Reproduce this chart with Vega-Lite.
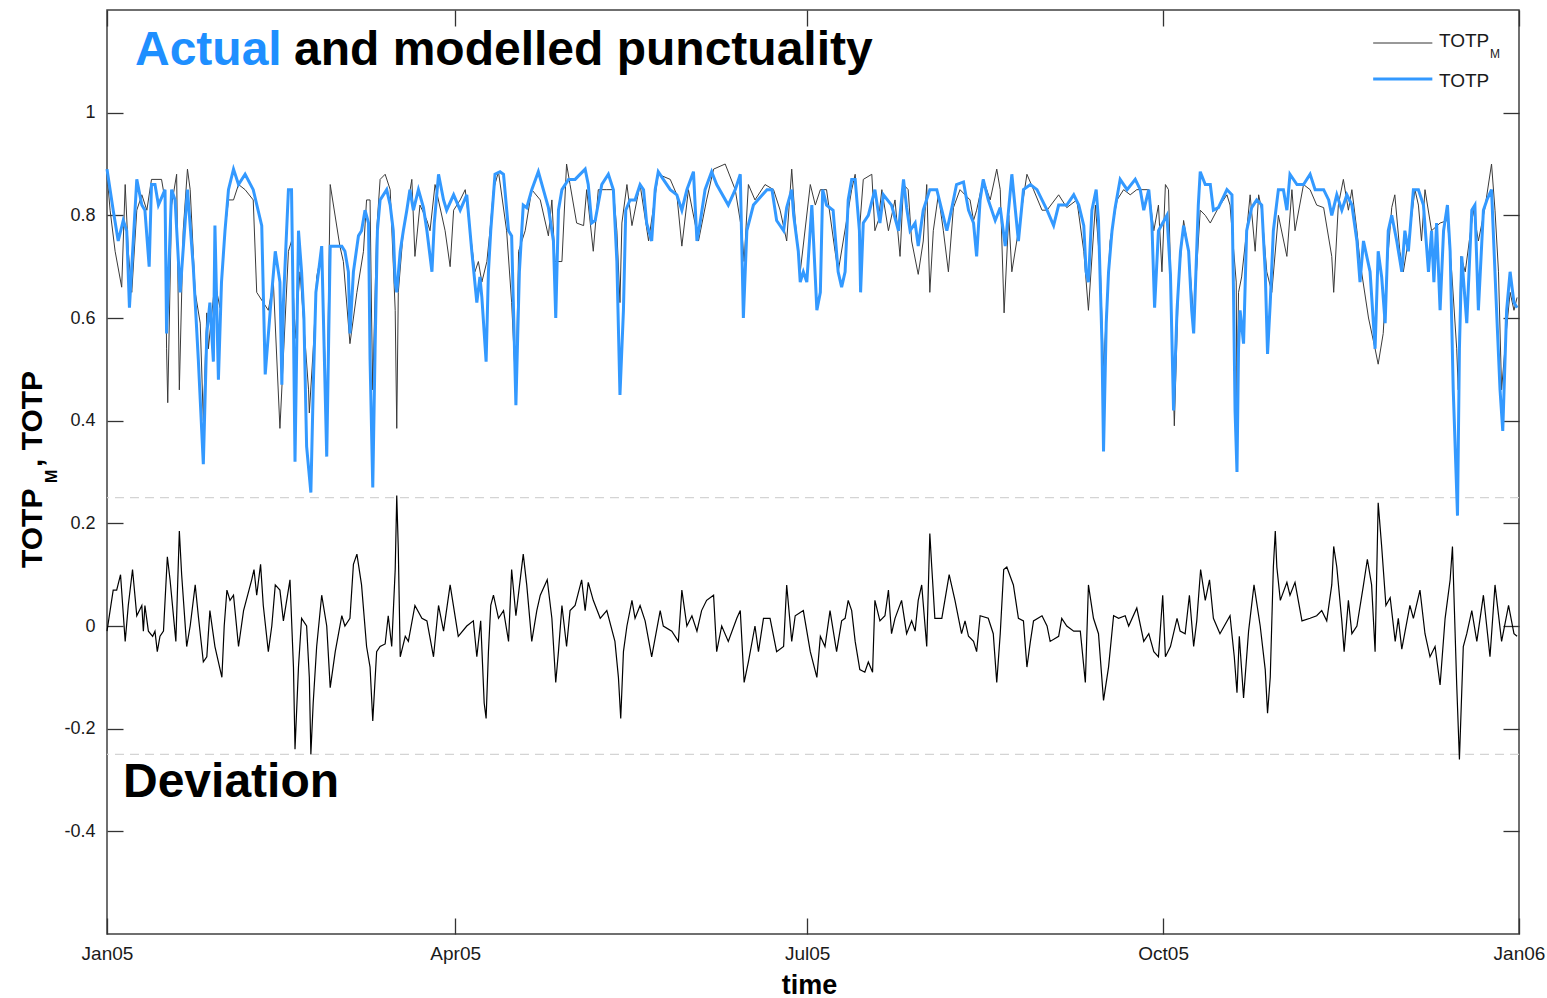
{
  "$schema": "https://vega.github.io/schema/vega-lite/v6.json",
  "width": 1412,
  "height": 924,
  "autosize": {"type": "none"},
  "padding": {"left": 107, "top": 10, "right": 28, "bottom": 64},
  "background": "white",
  "config": {"view": {"stroke": "#404040", "strokeWidth": 1.5}, "font": "Liberation Sans"},
  "data": {"values": [{}]},
  "datasets": {
    "actual": [{"d":0,"v":0.89},{"d":1.6,"v":0.81},{"d":2.9,"v":0.75},{"d":4.2,"v":0.79},{"d":5.1,"v":0.77},{"d":5.8,"v":0.62},{"d":7.7,"v":0.87},{"d":9,"v":0.82},{"d":9.8,"v":0.81},{"d":10.9,"v":0.7},{"d":11.5,"v":0.86},{"d":12.4,"v":0.86},{"d":13.3,"v":0.82},{"d":15,"v":0.85},{"d":15.4,"v":0.57},{"d":16.7,"v":0.85},{"d":17.6,"v":0.83},{"d":18.9,"v":0.65},{"d":20.8,"v":0.85},{"d":22.3,"v":0.7},{"d":23.6,"v":0.52},{"d":24.9,"v":0.315},{"d":25.8,"v":0.57},{"d":26.6,"v":0.63},{"d":27.5,"v":0.515},{"d":27.9,"v":0.78},{"d":28.8,"v":0.48},{"d":29.6,"v":0.67},{"d":30.5,"v":0.77},{"d":31.4,"v":0.85},{"d":32.7,"v":0.89},{"d":34,"v":0.86},{"d":35.7,"v":0.88},{"d":37.8,"v":0.85},{"d":40,"v":0.78},{"d":40.9,"v":0.49},{"d":42.2,"v":0.615},{"d":43.5,"v":0.73},{"d":44.7,"v":0.67},{"d":45.2,"v":0.47},{"d":45.6,"v":0.63},{"d":46.9,"v":0.85},{"d":47.7,"v":0.85},{"d":48.2,"v":0.585},{"d":48.6,"v":0.32},{"d":49.5,"v":0.77},{"d":50.3,"v":0.69},{"d":50.9,"v":0.6},{"d":51.6,"v":0.35},{"d":52.7,"v":0.26},{"d":53.3,"v":0.46},{"d":54,"v":0.65},{"d":54.6,"v":0.685},{"d":55.5,"v":0.74},{"d":56.8,"v":0.33},{"d":57.7,"v":0.74},{"d":59,"v":0.74},{"d":60.7,"v":0.74},{"d":61.5,"v":0.73},{"d":62.4,"v":0.69},{"d":62.8,"v":0.57},{"d":63.7,"v":0.69},{"d":65,"v":0.76},{"d":65.8,"v":0.77},{"d":66.7,"v":0.81},{"d":67.6,"v":0.785},{"d":68,"v":0.52},{"d":68.7,"v":0.27},{"d":69.3,"v":0.54},{"d":69.9,"v":0.77},{"d":70.6,"v":0.83},{"d":72.3,"v":0.85},{"d":73.2,"v":0.82},{"d":74,"v":0.77},{"d":74.5,"v":0.67},{"d":74.9,"v":0.65},{"d":75.8,"v":0.73},{"d":76.6,"v":0.77},{"d":77.5,"v":0.81},{"d":78.3,"v":0.85},{"d":79.2,"v":0.81},{"d":80.5,"v":0.85},{"d":81.8,"v":0.815},{"d":82.7,"v":0.77},{"d":84,"v":0.69},{"d":84.6,"v":0.785},{"d":85.7,"v":0.88},{"d":87,"v":0.83},{"d":87.8,"v":0.81},{"d":89.6,"v":0.84},{"d":91.3,"v":0.81},{"d":93,"v":0.84},{"d":94.3,"v":0.73},{"d":95.6,"v":0.63},{"d":96.4,"v":0.68},{"d":96.9,"v":0.64},{"d":98,"v":0.515},{"d":98.6,"v":0.69},{"d":99.2,"v":0.77},{"d":100.3,"v":0.88},{"d":101.6,"v":0.885},{"d":102.5,"v":0.88},{"d":103.8,"v":0.77},{"d":104.6,"v":0.76},{"d":105.7,"v":0.43},{"d":106.6,"v":0.69},{"d":107.6,"v":0.82},{"d":108.5,"v":0.815},{"d":109.8,"v":0.85},{"d":111.5,"v":0.885},{"d":112.8,"v":0.85},{"d":114.1,"v":0.815},{"d":115.4,"v":0.75},{"d":116,"v":0.6},{"d":116.7,"v":0.81},{"d":117.6,"v":0.85},{"d":119.3,"v":0.87},{"d":121,"v":0.87},{"d":123.6,"v":0.89},{"d":124.4,"v":0.86},{"d":125.3,"v":0.785},{"d":126.2,"v":0.79},{"d":127.9,"v":0.86},{"d":129.6,"v":0.88},{"d":130.9,"v":0.85},{"d":131.8,"v":0.71},{"d":132.6,"v":0.45},{"d":133.5,"v":0.615},{"d":134.1,"v":0.81},{"d":135.2,"v":0.83},{"d":136.5,"v":0.83},{"d":137.8,"v":0.86},{"d":138.7,"v":0.85},{"d":139.5,"v":0.785},{"d":140.8,"v":0.75},{"d":141.7,"v":0.85},{"d":142.5,"v":0.885},{"d":143.8,"v":0.87},{"d":145.6,"v":0.85},{"d":147.3,"v":0.84},{"d":148.6,"v":0.81},{"d":149.9,"v":0.85},{"d":151.6,"v":0.885},{"d":152.5,"v":0.75},{"d":153.3,"v":0.785},{"d":154.6,"v":0.85},{"d":156.3,"v":0.885},{"d":157.6,"v":0.86},{"d":160.6,"v":0.82},{"d":162.4,"v":0.85},{"d":163.7,"v":0.88},{"d":164.5,"v":0.6},{"d":165.4,"v":0.77},{"d":167.1,"v":0.82},{"d":170.6,"v":0.85},{"d":171.9,"v":0.85},{"d":173.1,"v":0.79},{"d":174.9,"v":0.77},{"d":175.7,"v":0.815},{"d":177,"v":0.85},{"d":177.5,"v":0.8},{"d":178.7,"v":0.73},{"d":179.2,"v":0.67},{"d":180,"v":0.69},{"d":180.9,"v":0.67},{"d":182.2,"v":0.82},{"d":183.5,"v":0.615},{"d":184.4,"v":0.65},{"d":185,"v":0.85},{"d":186,"v":0.82},{"d":187.7,"v":0.81},{"d":189,"v":0.69},{"d":189.9,"v":0.66},{"d":190.8,"v":0.69},{"d":191.6,"v":0.83},{"d":192.5,"v":0.87},{"d":193.4,"v":0.87},{"d":194.5,"v":0.77},{"d":194.8,"v":0.65},{"d":195.5,"v":0.785},{"d":196.8,"v":0.8},{"d":198.5,"v":0.85},{"d":199.8,"v":0.785},{"d":200.7,"v":0.84},{"d":202.8,"v":0.82},{"d":204.6,"v":0.77},{"d":205.9,"v":0.87},{"d":206.7,"v":0.815},{"d":207.6,"v":0.77},{"d":208.9,"v":0.785},{"d":209.7,"v":0.74},{"d":211,"v":0.81},{"d":212.7,"v":0.85},{"d":214.5,"v":0.85},{"d":215.8,"v":0.81},{"d":217.1,"v":0.77},{"d":218.4,"v":0.815},{"d":219.6,"v":0.86},{"d":221.4,"v":0.865},{"d":222.7,"v":0.81},{"d":224,"v":0.785},{"d":224.8,"v":0.72},{"d":225.7,"v":0.83},{"d":226.5,"v":0.87},{"d":227.8,"v":0.83},{"d":229.6,"v":0.79},{"d":230.9,"v":0.815},{"d":232.2,"v":0.74},{"d":233.9,"v":0.88},{"d":235.6,"v":0.75},{"d":236.9,"v":0.85},{"d":238.7,"v":0.86},{"d":240.4,"v":0.85},{"d":241.7,"v":0.83},{"d":243,"v":0.81},{"d":244.7,"v":0.78},{"d":246,"v":0.82},{"d":248.1,"v":0.82},{"d":249.9,"v":0.84},{"d":251.2,"v":0.82},{"d":252.5,"v":0.78},{"d":253.1,"v":0.69},{"d":253.7,"v":0.67},{"d":254.6,"v":0.81},{"d":255.7,"v":0.85},{"d":256.3,"v":0.79},{"d":257.2,"v":0.55},{"d":257.6,"v":0.34},{"d":258.3,"v":0.59},{"d":258.9,"v":0.69},{"d":259.8,"v":0.77},{"d":260.6,"v":0.815},{"d":261.9,"v":0.87},{"d":263.7,"v":0.85},{"d":265.8,"v":0.87},{"d":267.1,"v":0.85},{"d":268,"v":0.81},{"d":269.3,"v":0.85},{"d":270.1,"v":0.785},{"d":270.8,"v":0.62},{"d":271.8,"v":0.77},{"d":274,"v":0.8},{"d":274.9,"v":0.685},{"d":275.7,"v":0.42},{"d":276.6,"v":0.615},{"d":277.5,"v":0.73},{"d":278.3,"v":0.78},{"d":279.6,"v":0.73},{"d":280.4,"v":0.615},{"d":280.9,"v":0.57},{"d":281.3,"v":0.65},{"d":282.1,"v":0.82},{"d":282.6,"v":0.885},{"d":283.9,"v":0.86},{"d":285.2,"v":0.86},{"d":286,"v":0.81},{"d":287.3,"v":0.815},{"d":289.5,"v":0.85},{"d":290.8,"v":0.84},{"d":291.2,"v":0.65},{"d":291.6,"v":0.42},{"d":292.1,"v":0.3},{"d":292.5,"v":0.54},{"d":292.9,"v":0.615},{"d":293.8,"v":0.55},{"d":294.6,"v":0.77},{"d":295.9,"v":0.815},{"d":297.2,"v":0.83},{"d":298.5,"v":0.82},{"d":299.4,"v":0.69},{"d":300,"v":0.53},{"d":300.7,"v":0.63},{"d":301.5,"v":0.77},{"d":302.8,"v":0.85},{"d":304.1,"v":0.85},{"d":305,"v":0.81},{"d":305.8,"v":0.88},{"d":307.6,"v":0.86},{"d":309.3,"v":0.86},{"d":311,"v":0.88},{"d":312.3,"v":0.85},{"d":314.5,"v":0.85},{"d":315.8,"v":0.83},{"d":316.6,"v":0.8},{"d":317.9,"v":0.84},{"d":319.2,"v":0.81},{"d":320.5,"v":0.84},{"d":321.8,"v":0.82},{"d":323.1,"v":0.75},{"d":323.9,"v":0.67},{"d":324.8,"v":0.75},{"d":326.5,"v":0.69},{"d":327.8,"v":0.54},{"d":328.6,"v":0.73},{"d":329.5,"v":0.68},{"d":330.4,"v":0.59},{"d":331.2,"v":0.77},{"d":332.1,"v":0.8},{"d":333.4,"v":0.75},{"d":334.7,"v":0.69},{"d":335.5,"v":0.77},{"d":336.4,"v":0.73},{"d":337.7,"v":0.85},{"d":339,"v":0.85},{"d":340.3,"v":0.82},{"d":341.6,"v":0.69},{"d":342.4,"v":0.77},{"d":343,"v":0.67},{"d":343.7,"v":0.785},{"d":344.6,"v":0.615},{"d":345.5,"v":0.77},{"d":346.5,"v":0.82},{"d":347.2,"v":0.73},{"d":348,"v":0.46},{"d":349.1,"v":0.215},{"d":349.6,"v":0.54},{"d":350.2,"v":0.72},{"d":351.5,"v":0.59},{"d":352.8,"v":0.81},{"d":353.6,"v":0.82},{"d":354.5,"v":0.615},{"d":355.8,"v":0.81},{"d":356.7,"v":0.83},{"d":357.9,"v":0.85},{"d":359.2,"v":0.615},{"d":360.1,"v":0.46},{"d":360.8,"v":0.38},{"d":361.8,"v":0.615},{"d":362.7,"v":0.69},{"d":363.7,"v":0.63},{"d":364.5,"v":0.62}],
    "model": [{"d":0,"v":0.88},{"d":0.8,"v":0.81},{"d":2.1,"v":0.73},{"d":3.8,"v":0.66},{"d":4.7,"v":0.86},{"d":5.5,"v":0.73},{"d":6.4,"v":0.65},{"d":7.7,"v":0.81},{"d":9,"v":0.84},{"d":10.3,"v":0.81},{"d":11.5,"v":0.87},{"d":14.1,"v":0.87},{"d":15,"v":0.83},{"d":15.4,"v":0.54},{"d":15.7,"v":0.435},{"d":16.7,"v":0.82},{"d":18,"v":0.88},{"d":18.7,"v":0.46},{"d":19.7,"v":0.77},{"d":20.8,"v":0.89},{"d":21.5,"v":0.85},{"d":22.8,"v":0.65},{"d":24.1,"v":0.59},{"d":24.9,"v":0.4},{"d":25.8,"v":0.61},{"d":26.2,"v":0.54},{"d":27.9,"v":0.67},{"d":29.2,"v":0.62},{"d":30.5,"v":0.77},{"d":31.4,"v":0.83},{"d":32.7,"v":0.83},{"d":34,"v":0.86},{"d":35.7,"v":0.85},{"d":37.8,"v":0.83},{"d":38.7,"v":0.65},{"d":41.7,"v":0.615},{"d":43,"v":0.67},{"d":44.7,"v":0.385},{"d":46.9,"v":0.73},{"d":47.7,"v":0.75},{"d":48.6,"v":0.56},{"d":49.9,"v":0.69},{"d":52.1,"v":0.46},{"d":52.3,"v":0.415},{"d":53.4,"v":0.55},{"d":54.2,"v":0.68},{"d":55.5,"v":0.73},{"d":56.8,"v":0.4},{"d":57.7,"v":0.86},{"d":60.2,"v":0.74},{"d":61.1,"v":0.71},{"d":62.8,"v":0.55},{"d":64.6,"v":0.65},{"d":66.3,"v":0.73},{"d":67.1,"v":0.83},{"d":68,"v":0.83},{"d":68.4,"v":0.6},{"d":68.7,"v":0.46},{"d":69.7,"v":0.77},{"d":70.6,"v":0.87},{"d":71.9,"v":0.88},{"d":73.2,"v":0.85},{"d":74.5,"v":0.615},{"d":74.9,"v":0.385},{"d":75.3,"v":0.65},{"d":76.6,"v":0.77},{"d":77.5,"v":0.81},{"d":78.8,"v":0.87},{"d":79.6,"v":0.72},{"d":80.9,"v":0.82},{"d":82.7,"v":0.79},{"d":83.5,"v":0.77},{"d":84.8,"v":0.86},{"d":87.4,"v":0.77},{"d":88.7,"v":0.7},{"d":89.6,"v":0.81},{"d":91.3,"v":0.83},{"d":92.6,"v":0.85},{"d":95.1,"v":0.69},{"d":96,"v":0.71},{"d":96.9,"v":0.67},{"d":98.2,"v":0.71},{"d":99,"v":0.77},{"d":99.9,"v":0.85},{"d":101.2,"v":0.885},{"d":103.3,"v":0.77},{"d":104.6,"v":0.63},{"d":105.1,"v":0.55},{"d":105.7,"v":0.46},{"d":106.4,"v":0.73},{"d":108.1,"v":0.77},{"d":109.8,"v":0.85},{"d":112,"v":0.83},{"d":114.1,"v":0.76},{"d":115,"v":0.83},{"d":115.8,"v":0.71},{"d":117.6,"v":0.71},{"d":118.8,"v":0.9},{"d":119.7,"v":0.86},{"d":121.4,"v":0.785},{"d":123.2,"v":0.78},{"d":124,"v":0.85},{"d":125.7,"v":0.73},{"d":127,"v":0.85},{"d":129.2,"v":0.85},{"d":130.9,"v":0.85},{"d":131.8,"v":0.77},{"d":132.6,"v":0.63},{"d":133.1,"v":0.785},{"d":134.4,"v":0.86},{"d":135.7,"v":0.78},{"d":137,"v":0.83},{"d":137.8,"v":0.86},{"d":140,"v":0.75},{"d":142.5,"v":0.88},{"d":145.6,"v":0.87},{"d":147.3,"v":0.84},{"d":148.6,"v":0.74},{"d":150.3,"v":0.85},{"d":152.9,"v":0.75},{"d":155,"v":0.83},{"d":156.8,"v":0.89},{"d":159.8,"v":0.9},{"d":162.4,"v":0.85},{"d":164.1,"v":0.77},{"d":164.7,"v":0.71},{"d":165.8,"v":0.86},{"d":167.5,"v":0.83},{"d":170.1,"v":0.86},{"d":172.3,"v":0.85},{"d":174,"v":0.81},{"d":175.7,"v":0.75},{"d":177,"v":0.89},{"d":177.9,"v":0.79},{"d":179.2,"v":0.69},{"d":181.8,"v":0.86},{"d":183.1,"v":0.82},{"d":184.4,"v":0.85},{"d":186,"v":0.85},{"d":188.2,"v":0.73},{"d":189,"v":0.69},{"d":192.5,"v":0.85},{"d":193.4,"v":0.88},{"d":194.5,"v":0.77},{"d":195.5,"v":0.87},{"d":197.7,"v":0.88},{"d":198.5,"v":0.77},{"d":199.4,"v":0.79},{"d":200.3,"v":0.85},{"d":202,"v":0.77},{"d":203.7,"v":0.83},{"d":205,"v":0.72},{"d":205.9,"v":0.86},{"d":207.1,"v":0.85},{"d":208,"v":0.75},{"d":209.7,"v":0.685},{"d":211,"v":0.75},{"d":211.9,"v":0.86},{"d":212.7,"v":0.65},{"d":213.6,"v":0.77},{"d":214.9,"v":0.84},{"d":216.2,"v":0.77},{"d":217.5,"v":0.69},{"d":218.8,"v":0.815},{"d":220.5,"v":0.85},{"d":223.1,"v":0.83},{"d":224,"v":0.79},{"d":224.8,"v":0.81},{"d":226.5,"v":0.87},{"d":228.3,"v":0.83},{"d":230,"v":0.89},{"d":230.9,"v":0.85},{"d":231.9,"v":0.61},{"d":233.1,"v":0.8},{"d":233.9,"v":0.69},{"d":235.6,"v":0.77},{"d":237.8,"v":0.88},{"d":239.5,"v":0.85},{"d":241.7,"v":0.81},{"d":243,"v":0.81},{"d":246,"v":0.84},{"d":248.1,"v":0.815},{"d":250.7,"v":0.83},{"d":252.5,"v":0.73},{"d":253.7,"v":0.615},{"d":255.5,"v":0.82},{"d":256.8,"v":0.69},{"d":257.6,"v":0.5},{"d":259.3,"v":0.75},{"d":261.1,"v":0.83},{"d":262.8,"v":0.85},{"d":264.5,"v":0.84},{"d":266.2,"v":0.85},{"d":269.3,"v":0.85},{"d":270.6,"v":0.77},{"d":271.8,"v":0.82},{"d":272.7,"v":0.69},{"d":273.6,"v":0.86},{"d":274.4,"v":0.85},{"d":275.9,"v":0.39},{"d":277,"v":0.67},{"d":278.3,"v":0.79},{"d":279.6,"v":0.73},{"d":280.9,"v":0.6},{"d":282.6,"v":0.81},{"d":283.9,"v":0.8},{"d":285.2,"v":0.785},{"d":287.3,"v":0.815},{"d":289.5,"v":0.84},{"d":290.3,"v":0.82},{"d":291.9,"v":0.67},{"d":292.1,"v":0.44},{"d":292.5,"v":0.65},{"d":293.3,"v":0.68},{"d":294.6,"v":0.77},{"d":295.5,"v":0.84},{"d":296.8,"v":0.73},{"d":297.7,"v":0.84},{"d":298.5,"v":0.81},{"d":299.8,"v":0.69},{"d":301.1,"v":0.65},{"d":302.8,"v":0.8},{"d":305,"v":0.72},{"d":306.3,"v":0.85},{"d":307.1,"v":0.77},{"d":309.3,"v":0.86},{"d":311,"v":0.85},{"d":312.7,"v":0.82},{"d":314.5,"v":0.815},{"d":316.6,"v":0.72},{"d":317.1,"v":0.65},{"d":318.3,"v":0.82},{"d":319.6,"v":0.87},{"d":320.9,"v":0.81},{"d":321.8,"v":0.85},{"d":323.1,"v":0.77},{"d":323.9,"v":0.71},{"d":326.1,"v":0.6},{"d":327.8,"v":0.54},{"d":328.6,"v":0.51},{"d":329.9,"v":0.57},{"d":330.8,"v":0.69},{"d":332.1,"v":0.815},{"d":332.9,"v":0.84},{"d":334.2,"v":0.73},{"d":335.1,"v":0.69},{"d":336.8,"v":0.77},{"d":338.1,"v":0.85},{"d":339,"v":0.82},{"d":339.8,"v":0.75},{"d":340.7,"v":0.85},{"d":342.4,"v":0.77},{"d":344.6,"v":0.785},{"d":346.5,"v":0.79},{"d":347.6,"v":0.69},{"d":348.9,"v":0.54},{"d":349.3,"v":0.46},{"d":350,"v":0.72},{"d":351.1,"v":0.69},{"d":353.2,"v":0.81},{"d":354.5,"v":0.75},{"d":356.2,"v":0.815},{"d":357.9,"v":0.9},{"d":358.8,"v":0.81},{"d":359.7,"v":0.69},{"d":360.5,"v":0.46},{"d":361.8,"v":0.58},{"d":362.7,"v":0.65},{"d":363.7,"v":0.615},{"d":364.5,"v":0.64}],
    "dev": [{"d":0,"v":-0.01},{"d":1.6,"v":0.07},{"d":2.5,"v":0.07},{"d":3.5,"v":0.1},{"d":4.7,"v":-0.03},{"d":5.5,"v":0.04},{"d":6.6,"v":0.11},{"d":7.7,"v":0.02},{"d":9,"v":0.04},{"d":9.4,"v":-0.01},{"d":9.8,"v":0.04},{"d":10.7,"v":-0.01},{"d":11.8,"v":-0.02},{"d":12.4,"v":-0.01},{"d":13,"v":-0.05},{"d":13.7,"v":-0.02},{"d":14.6,"v":-0.01},{"d":15.6,"v":0.135},{"d":16.3,"v":0.09},{"d":17.8,"v":-0.03},{"d":18.7,"v":0.185},{"d":19.3,"v":0.1},{"d":20.6,"v":-0.04},{"d":21.5,"v":0},{"d":22.8,"v":0.08},{"d":23.6,"v":0.02},{"d":24.9,"v":-0.07},{"d":25.8,"v":-0.06},{"d":26.6,"v":0.03},{"d":27.9,"v":-0.04},{"d":29.7,"v":-0.1},{"d":30.3,"v":0},{"d":31,"v":0.07},{"d":31.8,"v":0.05},{"d":32.7,"v":0.06},{"d":34,"v":-0.04},{"d":35.3,"v":0.03},{"d":37.4,"v":0.09},{"d":38,"v":0.11},{"d":38.7,"v":0.06},{"d":39.7,"v":0.12},{"d":40.4,"v":0.04},{"d":41.7,"v":-0.05},{"d":42.6,"v":0},{"d":43.5,"v":0.08},{"d":44.7,"v":0.07},{"d":45.6,"v":0.01},{"d":47.3,"v":0.09},{"d":48.2,"v":-0.08},{"d":48.6,"v":-0.24},{"d":49.5,"v":-0.08},{"d":50.3,"v":0.015},{"d":51.6,"v":0},{"d":52.3,"v":-0.1},{"d":52.7,"v":-0.25},{"d":53.3,"v":-0.15},{"d":54.2,"v":-0.04},{"d":55.5,"v":0.06},{"d":56.8,"v":0},{"d":57.7,"v":-0.12},{"d":59,"v":-0.05},{"d":60.7,"v":0.02},{"d":61.5,"v":0},{"d":62.8,"v":0.015},{"d":63.7,"v":0.12},{"d":64.6,"v":0.14},{"d":65.8,"v":0.08},{"d":67.1,"v":-0.04},{"d":68,"v":-0.08},{"d":68.7,"v":-0.185},{"d":69.7,"v":-0.05},{"d":70.6,"v":-0.04},{"d":71.9,"v":-0.035},{"d":72.7,"v":0.02},{"d":73.6,"v":-0.04},{"d":74.5,"v":0.11},{"d":74.9,"v":0.254},{"d":75.3,"v":0.15},{"d":75.8,"v":-0.06},{"d":77.1,"v":-0.02},{"d":77.9,"v":-0.03},{"d":79.6,"v":0.04},{"d":81.4,"v":0.015},{"d":82.7,"v":0.01},{"d":84.4,"v":-0.06},{"d":85.7,"v":0.04},{"d":87,"v":-0.01},{"d":88.7,"v":0.08},{"d":90.8,"v":-0.02},{"d":93,"v":0},{"d":94.7,"v":0.01},{"d":95.6,"v":-0.06},{"d":96.6,"v":0.01},{"d":97.5,"v":-0.15},{"d":98,"v":-0.18},{"d":98.6,"v":-0.05},{"d":99.2,"v":0.04},{"d":99.9,"v":0.06},{"d":101.2,"v":0.015},{"d":102.5,"v":0.03},{"d":103.8,"v":-0.03},{"d":104.6,"v":0.11},{"d":105.7,"v":0.02},{"d":107.6,"v":0.14},{"d":108.5,"v":0.08},{"d":109.8,"v":-0.03},{"d":111.1,"v":0.03},{"d":112,"v":0.06},{"d":113.8,"v":0.09},{"d":115,"v":0.015},{"d":116,"v":-0.11},{"d":116.7,"v":-0.05},{"d":117.6,"v":0.04},{"d":118.8,"v":-0.04},{"d":119.7,"v":0.03},{"d":121,"v":0.04},{"d":122.7,"v":0.09},{"d":123.6,"v":0.03},{"d":124.4,"v":0.085},{"d":125.7,"v":0.05},{"d":127.5,"v":0.015},{"d":129.2,"v":0.03},{"d":131.3,"v":-0.03},{"d":132.2,"v":-0.1},{"d":132.8,"v":-0.18},{"d":133.5,"v":-0.05},{"d":134.4,"v":0},{"d":135.7,"v":0.05},{"d":136.5,"v":0.015},{"d":137.8,"v":0.04},{"d":139.1,"v":0.01},{"d":140.8,"v":-0.06},{"d":143,"v":0.03},{"d":143.8,"v":0},{"d":146,"v":-0.01},{"d":147.7,"v":-0.03},{"d":148.6,"v":0.07},{"d":149.9,"v":0},{"d":151.2,"v":0.02},{"d":152.5,"v":-0.01},{"d":153.7,"v":0.03},{"d":155,"v":0.05},{"d":156.8,"v":0.06},{"d":157.6,"v":-0.05},{"d":158.9,"v":0},{"d":160.6,"v":-0.03},{"d":162.8,"v":0.015},{"d":163.7,"v":0.03},{"d":164.7,"v":-0.11},{"d":165.8,"v":-0.07},{"d":167.5,"v":0},{"d":168.4,"v":-0.05},{"d":169.7,"v":0.015},{"d":171.4,"v":0.015},{"d":173.1,"v":-0.05},{"d":174.9,"v":-0.04},{"d":175.7,"v":0.08},{"d":177,"v":-0.03},{"d":177.9,"v":0.02},{"d":180,"v":0.03},{"d":181.8,"v":-0.05},{"d":183.5,"v":-0.1},{"d":184.4,"v":-0.02},{"d":185.6,"v":-0.04},{"d":186.9,"v":0.03},{"d":188.6,"v":-0.05},{"d":189.9,"v":0.01},{"d":190.8,"v":0.015},{"d":191.6,"v":0.05},{"d":192.5,"v":0.03},{"d":193.4,"v":-0.03},{"d":194.6,"v":-0.085},{"d":195.9,"v":-0.09},{"d":196.8,"v":-0.07},{"d":197.9,"v":-0.09},{"d":198.5,"v":0.05},{"d":199.8,"v":0.01},{"d":201.1,"v":0.02},{"d":202,"v":0.07},{"d":202.8,"v":-0.015},{"d":203.7,"v":0.015},{"d":205.4,"v":0.05},{"d":206.7,"v":-0.015},{"d":208,"v":0.01},{"d":208.9,"v":-0.01},{"d":209.7,"v":0.05},{"d":210.6,"v":0.08},{"d":211.9,"v":-0.04},{"d":212.7,"v":0.18},{"d":213.2,"v":0.115},{"d":214,"v":0.015},{"d":215.8,"v":0.015},{"d":217.7,"v":0.1},{"d":219.2,"v":0.05},{"d":220.9,"v":-0.015},{"d":221.8,"v":0.01},{"d":222.7,"v":-0.02},{"d":224,"v":-0.03},{"d":224.8,"v":-0.05},{"d":225.7,"v":0.02},{"d":227.8,"v":0.015},{"d":229.1,"v":-0.015},{"d":230,"v":-0.11},{"d":230.9,"v":-0.015},{"d":231.8,"v":0.11},{"d":232.6,"v":0.115},{"d":234.3,"v":0.08},{"d":235.6,"v":0.015},{"d":236.9,"v":0.01},{"d":237.8,"v":-0.08},{"d":238.7,"v":-0.03},{"d":239.5,"v":0.01},{"d":241.7,"v":0.02},{"d":243,"v":0},{"d":243.8,"v":-0.03},{"d":246,"v":-0.02},{"d":246.8,"v":0.015},{"d":248.1,"v":0},{"d":249.9,"v":-0.01},{"d":251.6,"v":-0.01},{"d":252.9,"v":-0.11},{"d":253.7,"v":0.08},{"d":255,"v":0.015},{"d":256.3,"v":-0.015},{"d":257.6,"v":-0.145},{"d":258.9,"v":-0.08},{"d":260.2,"v":0.02},{"d":261.5,"v":0.015},{"d":263.2,"v":0.02},{"d":264.1,"v":0},{"d":266.2,"v":0.035},{"d":268,"v":-0.03},{"d":269.3,"v":-0.015},{"d":270.6,"v":-0.05},{"d":271.8,"v":-0.06},{"d":272.9,"v":0.06},{"d":273.6,"v":-0.06},{"d":274.9,"v":-0.04},{"d":276.6,"v":0.015},{"d":277.4,"v":-0.01},{"d":278.7,"v":-0.015},{"d":279.8,"v":0.06},{"d":280.9,"v":-0.04},{"d":281.7,"v":0.01},{"d":282.7,"v":0.11},{"d":283.9,"v":0.05},{"d":285,"v":0.09},{"d":286,"v":0.015},{"d":287.7,"v":-0.015},{"d":290.3,"v":0.02},{"d":291.4,"v":-0.06},{"d":292.1,"v":-0.13},{"d":292.7,"v":-0.02},{"d":293.8,"v":-0.14},{"d":295.1,"v":-0.01},{"d":296.5,"v":0.08},{"d":298.1,"v":0},{"d":299.4,"v":-0.085},{"d":300,"v":-0.17},{"d":300.7,"v":-0.1},{"d":301.5,"v":0.115},{"d":302,"v":0.185},{"d":302.4,"v":0.115},{"d":303.3,"v":0.05},{"d":305,"v":0.085},{"d":305.8,"v":0.06},{"d":307.1,"v":0.085},{"d":308.9,"v":0.01},{"d":311,"v":0.015},{"d":312.7,"v":0.02},{"d":314,"v":0.03},{"d":315.3,"v":0.01},{"d":316.6,"v":0.08},{"d":317.1,"v":0.155},{"d":317.9,"v":0.115},{"d":319.2,"v":0.01},{"d":319.8,"v":-0.05},{"d":320.9,"v":0.05},{"d":321.8,"v":-0.015},{"d":323.1,"v":0},{"d":324.8,"v":0.08},{"d":325.8,"v":0.13},{"d":326.9,"v":0.08},{"d":327.8,"v":-0.05},{"d":328.6,"v":0.24},{"d":329.5,"v":0.155},{"d":330.6,"v":0.04},{"d":331.7,"v":0.055},{"d":333,"v":-0.03},{"d":333.8,"v":0.015},{"d":334.7,"v":-0.045},{"d":336.8,"v":0.04},{"d":337.7,"v":0.015},{"d":339.4,"v":0.07},{"d":340.7,"v":-0.015},{"d":342,"v":-0.06},{"d":343.3,"v":-0.04},{"d":344.6,"v":-0.115},{"d":345.9,"v":0.015},{"d":347.2,"v":0.09},{"d":347.8,"v":0.155},{"d":348.9,"v":-0.115},{"d":349.6,"v":-0.26},{"d":350.6,"v":-0.04},{"d":351.5,"v":-0.015},{"d":352.8,"v":0.03},{"d":354.1,"v":-0.03},{"d":355.8,"v":0.06},{"d":357.5,"v":-0.06},{"d":358.8,"v":0.08},{"d":360.5,"v":-0.03},{"d":362.3,"v":0.04},{"d":363.7,"v":-0.015},{"d":364.5,"v":-0.02}]
  },
  "resolve": {"axis": {"x": "independent", "y": "independent"}},
  "layer": [
    {
      "data": {"values": [{"y": 0.25}, {"y": -0.25}]},
      "mark": {"type": "rule", "stroke": "#d4d4d4", "strokeWidth": 1.3, "strokeDash": [9, 6]},
      "encoding": {"y": {"field": "y", "type": "quantitative", "scale": {"domain": [-0.6, 1.2], "nice": false, "zero": false}, "axis": null}}
    },
    {
      "data": {"name": "dev"},
      "mark": {"type": "line", "color": "#000000", "strokeWidth": 1.2},
      "encoding": {
        "x": {"field": "d", "type": "quantitative", "scale": {"domain": [0, 365], "nice": false, "zero": false},
          "axis": {"orient": "top", "values": [0, 90, 181, 273, 365], "labels": false, "domain": false, "grid": false, "ticks": true, "tickSize": -16, "tickColor": "#333333", "tickWidth": 1.3, "title": null}},
        "y": {"field": "v", "type": "quantitative", "scale": {"domain": [-0.6, 1.2], "nice": false, "zero": false},
          "axis": {"orient": "right", "values": [-0.4, -0.2, 0, 0.2, 0.4, 0.6, 0.8, 1], "labels": false, "domain": false, "grid": false, "ticks": true, "tickSize": -16, "tickColor": "#333333", "tickWidth": 1.3, "title": null}}
      }
    },
    {
      "data": {"name": "model"},
      "mark": {"type": "line", "color": "#3a3a3a", "strokeWidth": 1},
      "encoding": {
        "x": {"field": "d", "type": "quantitative", "scale": {"domain": [0, 365], "nice": false, "zero": false},
          "axis": {"orient": "bottom", "values": [0, 90, 181, 273, 365], "labelExpr": "datum.value == 0 ? 'Jan05' : datum.value == 90 ? 'Apr05' : datum.value == 181 ? 'Jul05' : datum.value == 273 ? 'Oct05' : 'Jan06'", "labelFont": "Liberation Sans", "labelFontSize": 19, "labelColor": "#1a1a1a", "labelPadding": 26, "labelFlush": false, "labelOverlap": false, "domain": false, "grid": false, "ticks": true, "tickSize": -16, "tickColor": "#333333", "tickWidth": 1.3, "title": "time", "titleFont": "Liberation Sans", "titleFontSize": 27, "titleFontWeight": "bold", "titleColor": "#000000", "titleBaseline": "alphabetic", "titleAlign": "center", "titleX": 702, "titleY": 59}},
        "y": {"field": "v", "type": "quantitative", "scale": {"domain": [-0.6, 1.2], "nice": false, "zero": false},
          "axis": {"orient": "left", "values": [-0.4, -0.2, 0, 0.2, 0.4, 0.6, 0.8, 1], "labelExpr": "'' + datum.value", "labelFont": "Liberation Sans", "labelFontSize": 18, "labelColor": "#1a1a1a", "labelPadding": 28, "labelOverlap": false, "labelFlush": false, "domain": false, "grid": false, "ticks": true, "tickSize": -16, "tickColor": "#333333", "tickWidth": 1.3, "title": null}}
      }
    },
    {
      "data": {"name": "actual"},
      "mark": {"type": "line", "color": "#3399ff", "strokeWidth": 3},
      "encoding": {
        "x": {"field": "d", "type": "quantitative", "scale": {"domain": [0, 365], "nice": false, "zero": false}, "axis": null},
        "y": {"field": "v", "type": "quantitative", "scale": {"domain": [-0.6, 1.2], "nice": false, "zero": false}, "axis": null}
      }
    },
    {
      "mark": {"type": "text", "text": "Actual", "align": "left", "baseline": "alphabetic", "font": "Liberation Sans", "fontSize": 48, "fontWeight": "bold", "color": "#1e8fff"},
      "encoding": {"x": {"datum": 7.24, "type": "quantitative", "axis": null}, "y": {"datum": 1.093, "type": "quantitative", "axis": null}}
    },
    {
      "mark": {"type": "text", "text": "and modelled punctuality", "align": "left", "baseline": "alphabetic", "font": "Liberation Sans", "fontSize": 48, "fontWeight": "bold", "color": "#000000"},
      "encoding": {"x": {"datum": 48.34, "type": "quantitative", "axis": null}, "y": {"datum": 1.093, "type": "quantitative", "axis": null}}
    },
    {
      "mark": {"type": "text", "text": "Deviation", "align": "left", "baseline": "alphabetic", "font": "Liberation Sans", "fontSize": 48, "fontWeight": "bold", "color": "#000000"},
      "encoding": {"x": {"datum": 4.14, "type": "quantitative", "axis": null}, "y": {"datum": -0.333, "type": "quantitative", "axis": null}}
    },
    {
      "mark": {"type": "text", "text": "TOTP", "angle": 270, "align": "left", "baseline": "alphabetic", "font": "Liberation Sans", "fontSize": 30, "fontWeight": "bold", "color": "#000000"},
      "encoding": {"x": {"datum": -16.8, "type": "quantitative", "axis": null}, "y": {"datum": 0.113, "type": "quantitative", "axis": null}}
    },
    {
      "mark": {"type": "text", "text": "M", "angle": 270, "align": "left", "baseline": "alphabetic", "font": "Liberation Sans", "fontSize": 16, "fontWeight": "bold", "color": "#000000"},
      "encoding": {"x": {"datum": -12.93, "type": "quantitative", "axis": null}, "y": {"datum": 0.2786, "type": "quantitative", "axis": null}}
    },
    {
      "mark": {"type": "text", "text": ", TOTP", "angle": 270, "align": "left", "baseline": "alphabetic", "font": "Liberation Sans", "fontSize": 30, "fontWeight": "bold", "color": "#000000"},
      "encoding": {"x": {"datum": -16.8, "type": "quantitative", "axis": null}, "y": {"datum": 0.3097, "type": "quantitative", "axis": null}}
    },
    {
      "mark": {"type": "rule", "stroke": "#333333", "strokeWidth": 1},
      "encoding": {"x": {"datum": 327.3, "type": "quantitative", "axis": null}, "x2": {"datum": 342.6}, "y": {"datum": 1.1357, "type": "quantitative", "axis": null}}
    },
    {
      "mark": {"type": "rule", "stroke": "#3399ff", "strokeWidth": 3},
      "encoding": {"x": {"datum": 327.3, "type": "quantitative", "axis": null}, "x2": {"datum": 342.6}, "y": {"datum": 1.0656, "type": "quantitative", "axis": null}}
    },
    {
      "mark": {"type": "text", "text": "TOTP", "align": "left", "baseline": "alphabetic", "font": "Liberation Sans", "fontSize": 19, "color": "#1a1a1a"},
      "encoding": {"x": {"datum": 344.3, "type": "quantitative", "axis": null}, "y": {"datum": 1.128, "type": "quantitative", "axis": null}}
    },
    {
      "mark": {"type": "text", "text": "M", "align": "left", "baseline": "alphabetic", "font": "Liberation Sans", "fontSize": 12, "color": "#1a1a1a"},
      "encoding": {"x": {"datum": 357.5, "type": "quantitative", "axis": null}, "y": {"datum": 1.1065, "type": "quantitative", "axis": null}}
    },
    {
      "mark": {"type": "text", "text": "TOTP", "align": "left", "baseline": "alphabetic", "font": "Liberation Sans", "fontSize": 19, "color": "#1a1a1a"},
      "encoding": {"x": {"datum": 344.3, "type": "quantitative", "axis": null}, "y": {"datum": 1.05, "type": "quantitative", "axis": null}}
    }
  ]
}
